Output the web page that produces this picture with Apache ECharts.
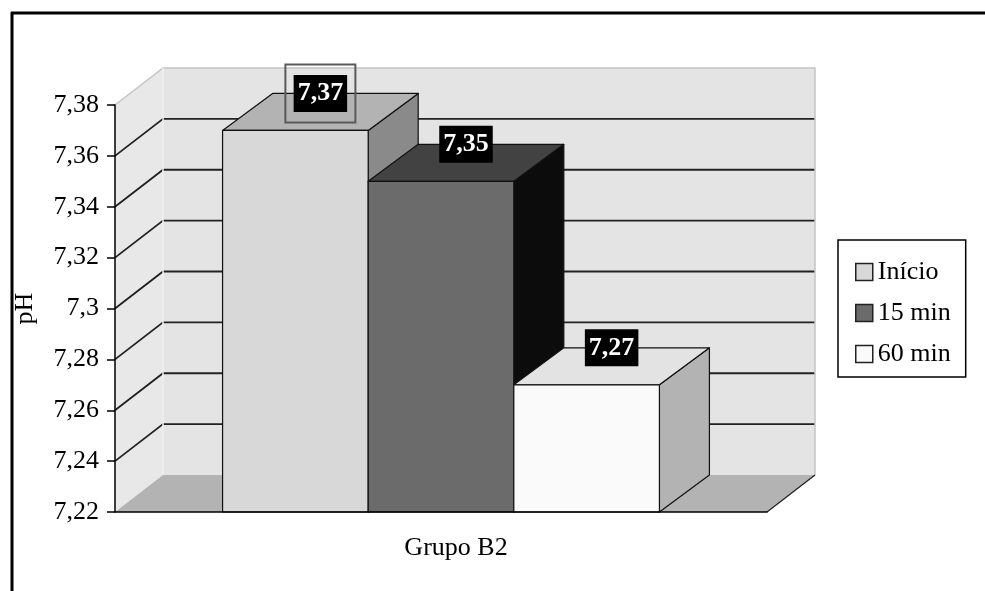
<!DOCTYPE html>
<html>
<head>
<meta charset="utf-8">
<script src="https://cdn.jsdelivr.net/npm/echarts@6/dist/echarts.min.js"></script>
<style>
  html, body { margin: 0; padding: 0; background: #fff; }
  #chart { width: 985px; height: 591px; }
</style>
</head>
<body>
<div id="chart"></div>
<script>
// pH por grupo e tempo de coleta
const categories = ['Grupo B2'];
const seriesNames = ['Início', '15 min', '60 min'];
const inicio = [7.37];
const min15 = [7.35];
const min60 = [7.27];
const yTicks = [7.22, 7.24, 7.26, 7.28, 7.3, 7.32, 7.34, 7.36, 7.38];

const FONT = '"Liberation Serif", "Times New Roman", serif';
const FONT_SIZE = 26;
// depth offsets of the 3D box (pixels)
const WALL_DX = 48, WALL_DY = -37;
const BAR_DX = 50, BAR_DY = -37;
const GAP_RATIO = 0.33;
const framedLabel = 0;

const faces = [
  { front: '#d8d8d8', top: '#b3b3b3', side: '#8a8a8a' },
  { front: '#6b6b6b', top: '#424242', side: '#0c0c0c' },
  { front: '#fafafa', top: '#e3e3e3', side: '#b3b3b3' }
];

const fmt = v => Number(v.toFixed(2)).toString().replace('.', ',');

function renderWalls(params, api) {
  const cs = params.coordSys;
  const x0 = cs.x, x1 = cs.x + cs.width;
  const yTop = api.coord([0, yTicks[yTicks.length - 1]])[1];
  const yBot = api.coord([0, yTicks[0]])[1];
  const children = [];
  // left side wall
  children.push({ type: 'polygon', shape: { points: [[x0, yTop], [x0 + WALL_DX, yTop + WALL_DY], [x0 + WALL_DX, yBot + WALL_DY], [x0, yBot]] },
    style: { fill: '#e8e8e8' } });
  // back wall
  children.push({ type: 'rect', shape: { x: x0 + WALL_DX, y: yTop + WALL_DY, width: x1 - x0, height: yBot - yTop },
    style: { fill: '#e4e4e4' } });
  // floor
  children.push({ type: 'polygon', shape: { points: [[x0, yBot], [x1, yBot], [x1 + WALL_DX, yBot + WALL_DY], [x0 + WALL_DX, yBot + WALL_DY]] },
    style: { fill: '#b3b3b3' } });
  // gridlines on the left and back walls
  yTicks.slice(1, -1).forEach(t => {
    const y = api.coord([0, t])[1];
    children.push({ type: 'polyline', shape: { points: [[x0, y], [x0 + WALL_DX, y + WALL_DY], [x1 + WALL_DX, y + WALL_DY]] },
      style: { stroke: '#222', lineWidth: 1.8, fill: null } });
  });
  // outer wall edges
  children.push({ type: 'polyline', shape: { points: [[x0, yTop], [x0 + WALL_DX, yTop + WALL_DY], [x1 + WALL_DX, yTop + WALL_DY], [x1 + WALL_DX, yBot + WALL_DY]] },
    style: { stroke: '#c4c4c4', lineWidth: 1.5, fill: null } });
  children.push({ type: 'line', shape: { x1: x0 + WALL_DX, y1: yTop + WALL_DY, x2: x0 + WALL_DX, y2: yBot + WALL_DY },
    style: { stroke: '#f0f0f0', lineWidth: 1.5 } });
  children.push({ type: 'line', shape: { x1: x1, y1: yBot, x2: x1 + WALL_DX, y2: yBot + WALL_DY },
    style: { stroke: '#222', lineWidth: 1.3 } });
  return { type: 'group', children };
}

function makeBarRenderer(slot) {
  return function (params, api) {
    const cat = api.value(0);
    const val = api.value(1);
    const topPt = api.coord([cat, val]);
    const basePt = api.coord([cat, yTicks[0]]);
    const band = api.size([1, 0])[0];
    const bw = band * (1 - GAP_RATIO) / 3;
    const xL = topPt[0] - 1.5 * bw + slot * bw;
    const xR = xL + bw;
    const yT = topPt[1], yB = basePt[1];
    const f = faces[slot];
    const edge = { stroke: '#111', lineWidth: 1.2, lineJoin: 'round' };
    const children = [
      { type: 'polygon', shape: { points: [[xR, yT], [xR + BAR_DX, yT + BAR_DY], [xR + BAR_DX, yB + BAR_DY], [xR, yB]] },
        style: Object.assign({ fill: f.side }, edge) },
      { type: 'polygon', shape: { points: [[xL, yT], [xR, yT], [xR + BAR_DX, yT + BAR_DY], [xL + BAR_DX, yT + BAR_DY]] },
        style: Object.assign({ fill: f.top }, edge) },
      { type: 'rect', shape: { x: xL, y: yT, width: bw, height: yB - yT },
        style: Object.assign({ fill: f.front }, edge) }
    ];
    const lx = xL + bw / 2 + BAR_DX / 2;
    const ly = yT + BAR_DY;
    if (slot === framedLabel) {
      children.push({ type: 'rect', shape: { x: lx - 35, y: ly - 29, width: 70, height: 58 },
        style: { fill: null, stroke: '#5a5a5a', lineWidth: 2 } });
    }
    children.push({ type: 'text', x: lx, y: ly,
      style: { text: fmt(val), fill: '#fff', backgroundColor: '#000', padding: [6, 4, 5, 4],
        font: 'bold 26px ' + FONT, align: 'center', verticalAlign: 'middle' } });
    return { type: 'group', children };
  };
}

const seriesData = [inicio, min15, min60];

const chart = echarts.init(document.getElementById('chart'), null, { renderer: 'canvas' });
chart.setOption({
  animation: false,
  backgroundColor: '#fff',
  grid: { left: 115, right: 218, top: 105, bottom: 79 },
  xAxis: {
    type: 'category',
    data: categories,
    z: 10,
    axisLine: { lineStyle: { color: '#000', width: 1.5 } },
    axisTick: { length: 8, lineStyle: { color: '#000', width: 1.5 } },
    axisLabel: { color: '#000', fontFamily: FONT, fontSize: FONT_SIZE, margin: 23, padding: [0, 0, 0, 30] },
    splitLine: { show: false }
  },
  yAxis: {
    type: 'value',
    min: yTicks[0],
    max: yTicks[yTicks.length - 1],
    interval: 0.02,
    z: 10,
    name: 'pH',
    nameLocation: 'middle',
    nameGap: 77,
    nameTextStyle: { color: '#000', fontFamily: FONT, fontSize: FONT_SIZE },
    axisLine: { show: true, lineStyle: { color: '#000', width: 1.5 } },
    axisTick: { show: true, length: 8, lineStyle: { color: '#000', width: 1.5 } },
    axisLabel: { color: '#000', fontFamily: FONT, fontSize: FONT_SIZE, margin: 16, formatter: fmt },
    splitLine: { show: false }
  },
  legend: {
    left: 838,
    top: 240,
    orient: 'vertical',
    itemWidth: 17,
    itemHeight: 17,
    itemGap: 15,
    padding: [19, 15, 10, 17],
    borderColor: '#000',
    borderWidth: 1.5,
    backgroundColor: '#fff',
    textStyle: { color: '#000', fontFamily: FONT, fontSize: FONT_SIZE, lineHeight: 26 },
    data: seriesNames.map((n, i) => ({ name: n, icon: 'rect',
      itemStyle: { color: faces[i].front, borderColor: '#222', borderWidth: 1.5 } }))
  },
  graphic: [
    { type: 'line', shape: { x1: 11, y1: 13, x2: 985, y2: 13 }, style: { stroke: '#000', lineWidth: 3 } },
    { type: 'line', shape: { x1: 12, y1: 12, x2: 12, y2: 591 }, style: { stroke: '#000', lineWidth: 3 } }
  ],
  series: [
    { type: 'custom', name: 'walls', silent: true, z: 1, renderItem: renderWalls, data: [[0]] }
  ].concat(seriesNames.map((n, i) => ({
    type: 'custom',
    name: n,
    z: 2,
    itemStyle: { color: faces[i].front },
    renderItem: makeBarRenderer(i),
    encode: { x: 0, y: 1 },
    data: seriesData[i].map((v, k) => [k, v])
  })))
});
</script>
</body>
</html>
